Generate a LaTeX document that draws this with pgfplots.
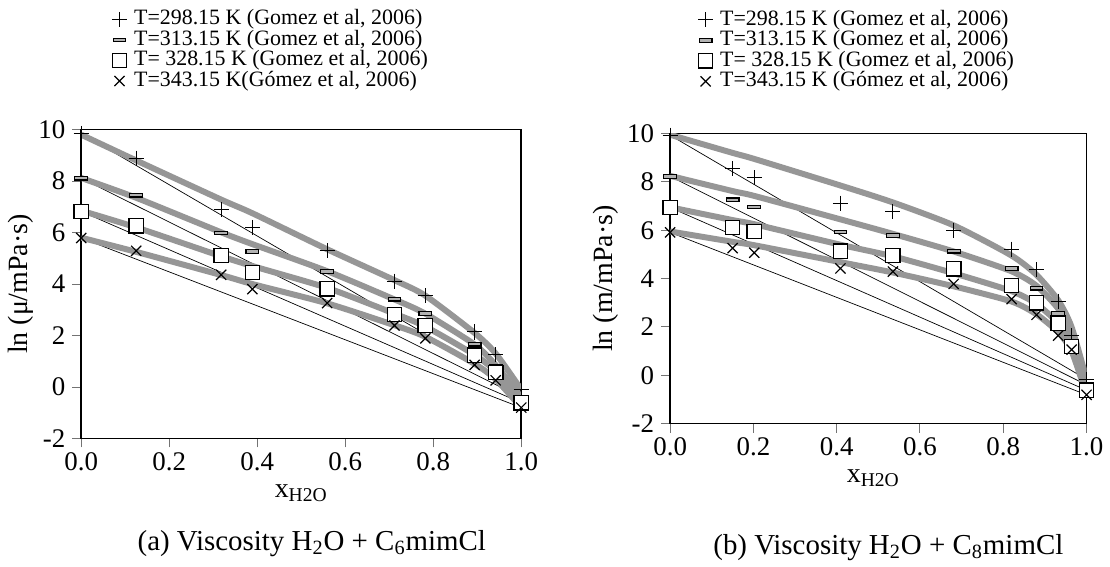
\documentclass[border=0pt]{standalone}
\usepackage{pgfplots}
\pgfplotsset{compat=1.18}
\usepackage{pgfplotstable}
\usepackage{fontspec}
\setmainfont{Liberation Serif}
\definecolor{modelgray}{RGB}{150,150,150}
\pgfdeclareplotmark{dashbox}{%
  \pgfpathrectangle{\pgfqpoint{-1.1\pgfplotmarksize}{-0.3\pgfplotmarksize}}{\pgfqpoint{2.2\pgfplotmarksize}{0.6\pgfplotmarksize}}%
  \pgfusepathqfillstroke}

\pgfplotstableread{
x     p298  p313  p328  p343
0.000 9.85  8.11  6.82  5.79
0.125 8.89  7.45  6.26  5.29
0.318 6.89  5.99  5.11  4.36
0.389 6.20  5.26  4.45  3.80
0.559 5.29  4.49  3.82  3.26
0.712 4.11  3.41  2.82  2.39
0.782 3.54  2.86  2.39  1.89
0.894 2.14  1.66  1.24  0.86
0.942 1.26  0.82  0.57  0.26
1.000 -0.11 -0.40 -0.61 -0.80
}\dataA
\pgfplotstableread{
x     m298  m313  m328  m343
0.000 9.80  8.12  6.85  5.80
0.125 8.80  7.35  6.20  5.25
0.318 7.28  6.01  5.08  4.35
0.389 6.75  5.55  4.70  4.00
0.559 5.35  4.50  3.85  3.25
0.712 4.15  3.40  2.85  2.40
0.782 3.55  2.85  2.35  1.95
0.894 2.10  1.65  1.25  0.90
0.942 1.30  0.85  0.60  0.30
1.000 -0.10 -0.40 -0.60 -0.80
}\modelA
\pgfplotstableread{
x     p298  p313  p328  p343
0.000 9.93  8.23  6.94  5.91
0.150 8.55  7.26  6.12  5.26
0.202 8.17  6.97  5.95  5.07
0.409 7.12  5.93  5.13  4.42
0.535 6.77  5.78  4.96  4.29
0.681 6.00  5.13  4.40  3.78
0.820 5.22  4.42  3.71  3.15
0.880 4.36  3.60  3.00  2.50
0.932 3.06  2.55  2.16  1.64
0.964 1.64  1.35  1.19  1.06
1.000 -0.17 -0.40 -0.62 -0.81
}\dataB
\pgfplotstableread{
x     m298  m313  m328  m343
0.000 9.95  8.25  6.95  5.95
0.150 9.20  7.62  6.42  5.52
0.202 8.95  7.42  6.25  5.38
0.409 7.85  6.45  5.40  4.68
0.535 7.15  5.85  4.92  4.25
0.681 6.20  5.12  4.22  3.68
0.820 4.95  4.30  3.48  3.05
0.880 4.15  3.70  2.95  2.52
0.932 3.10  2.75  2.15  1.78
0.964 2.00  1.70  1.30  1.00
1.000 -0.17 -0.40 -0.62 -0.81
}\modelB

\pgfplotsset{
  common/.style={
    scale only axis, clip mode=individual,
    xmin=0, xmax=1, ymin=-2, ymax=10,
    xtick={0,0.2,0.4,0.6,0.8,1},
    xticklabels={0.0,0.2,0.4,0.6,0.8,1.0},
    ytick={-2,0,2,4,6,8,10},
    yticklabels={-2,0,2,4,6,8,10},
    tick pos=left, tick align=outside, major tick length=4.5pt,
    axis line style={line width=0.8pt},
    tick style={line width=0.5pt, black!55},
    tick label style={font=\fontsize{13.5}{15}\selectfont},
    xticklabel style={yshift=1pt},
    label style={font=\fontsize{14}{16}\selectfont},
    legend cell align=left,
    legend style={draw=none, fill=none, font=\fontsize{11}{12}\selectfont,
      row sep=0pt, column sep=3.5pt, inner sep=0pt,
      nodes={inner sep=0pt, text height=7.8pt, text depth=2.5pt}},
    legend image code/.code={\draw[##1] plot coordinates {(4pt,0pt)};},
  },
  thinline/.style={black, line width=0.35pt, forget plot},
  model/.style={modelgray, line width=3pt, line join=round, smooth, tension=0.4, forget plot},
  mplus/.style={only marks, mark=+, mark size=3.8pt, black, line width=0.55pt},
  mdash/.style={only marks, mark=dashbox, mark size=2.9pt, black, fill=gray!60, line width=0.55pt},
  msq/.style={only marks, mark=square*, mark size=3.6pt, black, fill=white, line width=0.65pt},
  mx/.style={only marks, mark=x, mark size=3.6pt, black, line width=0.6pt},
}

\begin{document}
\begin{tikzpicture}
\path (0,0) rectangle (555pt,284pt);
\begin{axis}[common, at={(40.75pt,64pt)}, anchor=south west, width=220.75pt, height=155pt,
  xlabel={x\textsubscript{H2O}},
  xlabel style={at={(axis description cs:0.5,-0.177)}, anchor=center},
  ylabel={ln (μ/mPa·s)},
  ylabel style={at={(axis description cs:-0.137,0.5)}, anchor=center},
  legend style={at={(0.069,1.391)}, anchor=north west}]
\addplot[thinline] coordinates {(0,9.85) (1,-0.11)};
\addplot[thinline] coordinates {(0,8.11) (1,-0.40)};
\addplot[thinline] coordinates {(0,6.82) (1,-0.61)};
\addplot[thinline] coordinates {(0,5.79) (1,-0.80)};
\addplot[model] table[x=x,y=m298] {\modelA};
\addplot[model] table[x=x,y=m313] {\modelA};
\addplot[model] table[x=x,y=m328] {\modelA};
\addplot[model] table[x=x,y=m343] {\modelA};
\addplot[mplus] table[x=x,y=p298] {\dataA};
\addlegendentry{T=298.15 K (Gomez et al, 2006)}
\addplot[mdash] table[x=x,y=p313] {\dataA};
\addlegendentry{T=313.15 K (Gomez et al, 2006)}
\addplot[msq] table[x=x,y=p328] {\dataA};
\addlegendentry{T= 328.15 K (Gomez et al, 2006)}
\addplot[mx] table[x=x,y=p343] {\dataA};
\addlegendentry{T=343.15 K(Gómez et al, 2006)}
\node[font=\fontsize{14.5}{16}\selectfont] at (rel axis cs:0.524,-0.339) {(a) Viscosity H\textsubscript{2}O + C\textsubscript{6}mimCl};
\end{axis}

\begin{axis}[common, at={(336.2pt,71.5pt)}, anchor=south west, width=208.9pt, height=145.5pt,
  xlabel={x\textsubscript{H2O}},
  xlabel style={at={(axis description cs:0.488,-0.189)}, anchor=center},
  ylabel={ln (m/mPa·s)},
  ylabel style={at={(axis description cs:-0.154,0.5)}, anchor=center},
  legend style={at={(0.066,1.429)}, anchor=north west}]
\addplot[thinline] coordinates {(0,9.93) (1,-0.17)};
\addplot[thinline] coordinates {(0,8.23) (1,-0.40)};
\addplot[thinline] coordinates {(0,6.94) (1,-0.62)};
\addplot[thinline] coordinates {(0,5.91) (1,-0.81)};
\addplot[model] table[x=x,y=m298] {\modelB};
\addplot[model] table[x=x,y=m313] {\modelB};
\addplot[model] table[x=x,y=m328] {\modelB};
\addplot[model] table[x=x,y=m343] {\modelB};
\addplot[mplus] table[x=x,y=p298] {\dataB};
\addlegendentry{T=298.15 K (Gomez et al, 2006)}
\addplot[mdash] table[x=x,y=p313] {\dataB};
\addlegendentry{T=313.15 K (Gomez et al, 2006)}
\addplot[msq] table[x=x,y=p328] {\dataB};
\addlegendentry{T= 328.15 K (Gomez et al, 2006)}
\addplot[mx] table[x=x,y=p343] {\dataB};
\addlegendentry{T=343.15 K (Gómez et al, 2006)}
\node[font=\fontsize{14.5}{16}\selectfont] at (rel axis cs:0.524,-0.426) {(b) Viscosity H\textsubscript{2}O + C\textsubscript{8}mimCl};
\end{axis}
\end{tikzpicture}
\end{document}
